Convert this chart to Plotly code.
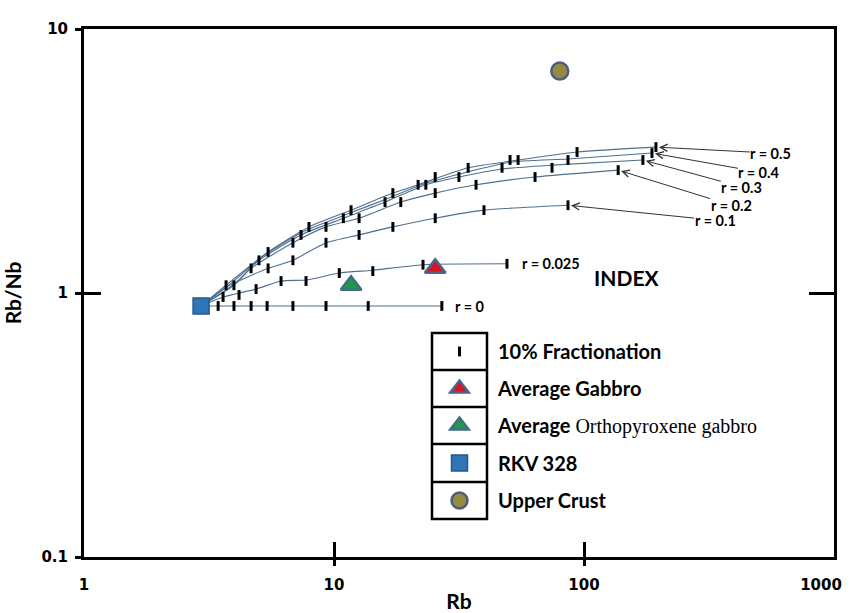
import numpy as np
import plotly.graph_objects as go

# ---------------- data ----------------
rkv_rb, rkv_ratio = [2.94], [0.893]
gabbro_rb, gabbro_ratio = [25.4], [1.24]
opx_gabbro_rb, opx_gabbro_ratio = [11.7], [1.07]
crust_rb, crust_ratio = [80.0], [6.93]

# AFC model curves (line paths)
r0_rb = [2.94, 3.44, 3.98, 4.66, 5.40, 6.85, 9.29, 13.7, 27.0]
r0_ratio = [0.893, 0.893, 0.893, 0.893, 0.893, 0.893, 0.893, 0.893, 0.893]
r0025_rb = [2.94, 3.60, 4.88, 6.14, 7.73, 10.5, 14.3, 22.7, 49.2]
r0025_ratio = [0.893, 0.966, 1.035, 1.11, 1.12, 1.19, 1.22, 1.28, 1.29]
r01_rb = [2.94, 3.70, 5.45, 6.85, 9.29, 12.6, 17.2, 25.4, 39.8, 86.3]
r01_ratio = [0.893, 1.05, 1.24, 1.33, 1.55, 1.66, 1.78, 1.92, 2.06, 2.15]
r02_rb = [2.94, 3.98, 4.66, 6.85, 9.29, 12.6, 18.5, 25.4, 37.0, 63.7, 137]
r02_ratio = [0.893, 1.07, 1.24, 1.55, 1.78, 1.92, 2.21, 2.39, 2.57, 2.75, 2.92]
r03_rb = [2.94, 3.98, 5.01, 7.38, 10.9, 16.0, 23.3, 31.6, 47.0, 74.5, 172]
r03_ratio = [0.893, 1.08, 1.33, 1.66, 1.92, 2.21, 2.57, 2.75, 2.95, 3.05, 3.19]
r04_rb = [2.94, 3.84, 5.20, 7.66, 11.3, 16.6, 22.4, 33.0, 50.6, 86.3, 187]
r04_ratio = [0.893, 1.08, 1.38, 1.72, 1.99, 2.29, 2.57, 2.85, 3.13, 3.22, 3.39]
r05_rb = [2.94, 3.70, 5.45, 7.94, 11.7, 17.2, 21.7, 34.4, 54.5, 93.8, 194]
r05_ratio = [0.893, 1.07, 1.43, 1.78, 2.06, 2.39, 2.57, 2.98, 3.19, 3.42, 3.57]

# 10 % fractionation marks
frac_rb = [3.44, 3.98, 4.66, 5.40, 6.85, 9.29, 13.7, 27.0,
           3.60, 4.17, 4.88, 6.14, 7.73, 10.5, 14.3, 22.7, 49.2,
           3.70, 3.98, 4.66, 5.01, 5.45, 5.45, 6.85, 6.85, 7.38, 7.94,
           9.29, 9.29, 10.9, 11.7, 12.6, 12.6, 16.0, 17.2, 17.2, 18.5,
           21.7, 23.3, 25.4, 25.4, 25.4, 31.6, 34.4, 37.0, 39.8, 47.0,
           50.6, 54.5, 63.7, 74.5, 86.3, 86.3, 93.8, 137, 172, 187, 194]
frac_ratio = [0.893, 0.893, 0.893, 0.893, 0.893, 0.893, 0.893, 0.893,
              0.966, 0.983, 1.035, 1.11, 1.11, 1.19, 1.21, 1.28, 1.29,
              1.07, 1.07, 1.24, 1.33, 1.43, 1.24, 1.55, 1.33, 1.66, 1.78,
              1.78, 1.55, 1.92, 2.06, 1.92, 1.66, 2.21, 2.39, 1.78, 2.21,
              2.57, 2.57, 2.75, 2.39, 1.92, 2.75, 2.98, 2.57, 2.06, 2.98,
              3.19, 3.19, 2.75, 2.98, 2.15, 3.19, 3.42, 2.92, 3.19, 3.39, 3.57]

x_tickvals = [1, 10, 100]
x_ticktext = ["1", "10", "100"]
x_last_tickval = [1000]
x_last_ticktext = ["1000"]
y_tickvals = [0.1, 1, 10]
y_ticktext = ["0.1", "1", "10"]

# ---------------- layout helpers ----------------
W, H = 850, 613
ML, MR, MT, MB = 84, 16, 29, 56
def px_x(p):
    return (p - ML) / (W - ML - MR)
def px_y(p):
    return (H - MB - p) / (H - MT - MB)

FONT = "Lato"
LINE_COLOR = "#4f6f90"

fig = go.Figure()

curves = [(r0_rb, r0_ratio), (r0025_rb, r0025_ratio), (r01_rb, r01_ratio),
          (r02_rb, r02_ratio), (r03_rb, r03_ratio), (r04_rb, r04_ratio),
          (r05_rb, r05_ratio)]
for cx, cy in curves:
    fig.add_trace(go.Scatter(x=cx, y=cy, mode="lines",
                             line=dict(color=LINE_COLOR, width=1.1, shape="spline", smoothing=0.6),
                             showlegend=False, hoverinfo="skip"))

fig.add_trace(go.Scatter(x=frac_rb, y=frac_ratio, mode="markers", name="10% Fractionation",
                         marker=dict(symbol="line-ns", size=7, color="black",
                                     line=dict(color="black", width=3)),
                         legend="legend"))
fig.add_trace(go.Scatter(x=gabbro_rb, y=gabbro_ratio, mode="markers", name="Average Gabbro",
                         marker=dict(symbol="triangle-up", size=18, color="#d8161e",
                                     line=dict(color="#4d6490", width=2.5)),
                         legend="legend2"))
fig.add_trace(go.Scatter(x=opx_gabbro_rb, y=opx_gabbro_ratio, mode="markers",
                         name='Average <span style="font-family:Liberation Serif;font-weight:normal;font-size:20px">Orthopyroxene gabbro</span>',
                         marker=dict(symbol="triangle-up", size=18, color="#1f9a48",
                                     line=dict(color="#3e6e84", width=2.5)),
                         legend="legend3"))
fig.add_trace(go.Scatter(x=rkv_rb, y=rkv_ratio, mode="markers", name="RKV 328",
                         marker=dict(symbol="square", size=16, color="#2f76b8",
                                     line=dict(color="#24598c", width=1.5)),
                         legend="legend4"))
fig.add_trace(go.Scatter(x=crust_rb, y=crust_ratio, mode="markers", name="Upper Crust",
                         marker=dict(symbol="circle", size=17, color="#958a3e",
                                     line=dict(color="#4b5d88", width=2.5)),
                         legend="legend5"))
# empty carriers for the extra tick axes
fig.add_trace(go.Scatter(x=[None], y=[None], xaxis="x2", yaxis="y", showlegend=False, hoverinfo="skip"))
fig.add_trace(go.Scatter(x=[None], y=[None], xaxis="x3", yaxis="y", showlegend=False, hoverinfo="skip"))
fig.add_trace(go.Scatter(x=[None], y=[None], xaxis="x", yaxis="y2", showlegend=False, hoverinfo="skip"))
fig.add_trace(go.Scatter(x=[None], y=[None], xaxis="x", yaxis="y3", showlegend=False, hoverinfo="skip"))

tick_font = dict(family="DejaVu Sans", size=15, color="black", weight="bold")
title_font = dict(family=FONT, size=21, color="black", weight="bold")
leg_font = dict(family=FONT, size=20, color="black", weight="bold")

plain = dict(showgrid=False, zeroline=False, showline=False, showticklabels=False, automargin=False)

fig.update_layout(
    width=W, height=H,
    margin=dict(l=ML, r=MR, t=MT, b=MB, autoexpand=False),
    paper_bgcolor="white", plot_bgcolor="white",
    xaxis=dict(type="log", range=[0, 3], showgrid=False, zeroline=False, automargin=False,
               showline=True, linewidth=3, linecolor="black", mirror=True,
               tickmode="array", tickvals=x_tickvals, ticktext=x_ticktext,
               ticks="inside", ticklen=15, tickwidth=3, tickcolor="black",
               ticklabelstandoff=12,
               tickfont=tick_font,
               title=dict(text="Rb", font=title_font, standoff=2)),
    xaxis2=dict(type="log", range=[0, 3], overlaying="x", anchor="y", side="bottom",
                tickmode="array", tickvals=[10, 100], ticks="outside", ticklen=8,
                tickwidth=3, tickcolor="black", **plain),
    xaxis3=dict(type="log", range=[0, 3], overlaying="x", anchor="y", side="bottom",
                showgrid=False, zeroline=False, showline=True, linewidth=3, linecolor="black",
                automargin=False,
                tickmode="array", tickvals=x_last_tickval, ticktext=x_last_ticktext,
                ticks="inside", ticklen=15, tickwidth=3, tickcolor="rgba(0,0,0,0)",
                ticklabelstandoff=12, ticklabelshift=-13,
                ticklabeloverflow="allow", tickfont=tick_font),
    yaxis=dict(type="log", range=[-1, 1], showgrid=False, zeroline=False, automargin=False,
               showline=True, linewidth=3, linecolor="black", mirror=True,
               tickmode="array", tickvals=y_tickvals, ticktext=y_ticktext,
               ticks="inside", ticklen=17, tickwidth=3, tickcolor="black",
               ticklabelstandoff=10,
               tickfont=tick_font,
               title=dict(text="Rb/Nb", font=title_font, standoff=16)),
    yaxis2=dict(type="log", range=[-1, 1], overlaying="y", side="right", anchor="x",
                tickmode="array", tickvals=[1], ticks="inside", ticklen=25,
                tickwidth=3, tickcolor="black", **plain),
    yaxis3=dict(type="log", range=[-1, 1], overlaying="y", side="left", anchor="x",
                tickmode="array", tickvals=y_tickvals, ticks="outside", ticklen=8,
                tickwidth=3, tickcolor="black", **plain),
)

# legends: one per row, sitting next to a drawn cell grid
row_centers = [351.5, 388.5, 425.5, 463, 500.5]
for i, yc in enumerate(row_centers):
    key = "legend" if i == 0 else f"legend{i + 1}"
    fig.update_layout({key: dict(x=px_x(421), y=px_y(yc), xanchor="left", yanchor="middle",
                                 itemwidth=67, bgcolor="rgba(0,0,0,0)", borderwidth=0,
                                 font=leg_font, itemclick=False, itemdoubleclick=False)})

# legend grid
fig.add_shape(type="rect", xref="paper", yref="paper",
              x0=px_x(432), x1=px_x(487), y0=px_y(519), y1=px_y(333),
              line=dict(color="black", width=2.5))
for sep in [370, 407, 444, 482]:
    fig.add_shape(type="line", xref="paper", yref="paper",
                  x0=px_x(432), x1=px_x(487), y0=px_y(sep), y1=px_y(sep),
                  line=dict(color="black", width=2.5))

# curve labels with arrows
ann_font = dict(family=FONT, size=14.5, color="black", weight="bold")
arrow_specs = [("r = 0.5", r05_rb, r05_ratio, 115, 6),
               ("r = 0.4", r04_rb, r04_ratio, 107, 19),
               ("r = 0.3", r03_rb, r03_ratio, 99, 27),
               ("r = 0.2", r02_rb, r02_ratio, 113, 35),
               ("r = 0.1", r01_rb, r01_ratio, 147, 15)]
for txt, cx, cy, ax, ay in arrow_specs:
    fig.add_annotation(x=np.log10(cx[-1]), y=np.log10(cy[-1]), xref="x", yref="y",
                       text=txt, font=ann_font, showarrow=True, ax=ax, ay=ay,
                       arrowhead=5, arrowsize=1.4, arrowwidth=1, arrowcolor="#333333",
                       standoff=3, borderpad=0)

fig.add_annotation(x=px_x(551), y=px_y(263), xref="paper", yref="paper", text="r = 0.025",
                   font=ann_font, showarrow=False)
fig.add_annotation(x=px_x(470), y=px_y(306), xref="paper", yref="paper", text="r = 0",
                   font=ann_font, showarrow=False)
fig.add_annotation(x=px_x(661), y=px_y(277), xref="paper", yref="paper", text="INDEX",
                   font=dict(family=FONT, size=21, color="black", weight="bold"), showarrow=False)

fig.write_html("out.html")
